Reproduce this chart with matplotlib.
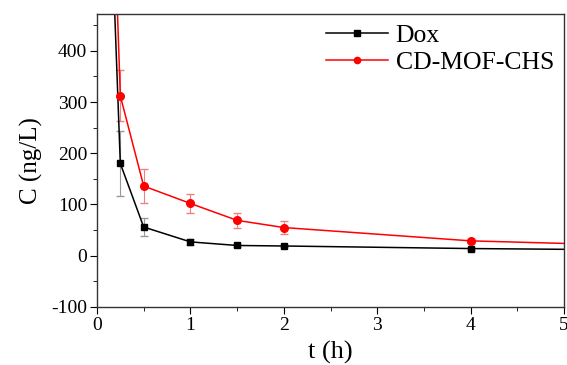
import matplotlib.pyplot as plt
from matplotlib.lines import Line2D
from matplotlib.ticker import MultipleLocator

plt.rcParams['font.family'] = ['Liberation Serif', 'DejaVu Serif']
plt.rcParams['axes.unicode_minus'] = False

# sampling times (h)
t = [0.083, 0.25, 0.5, 1, 1.5, 2, 4, 6]

# Dox plasma concentration (ng/L) and SD
dox = [1000, 180, 56, 27, 20, 19, 14, 11]
dox_err = [0, 63, 17, 6, 2, 2, 2, 1]

# CD-MOF-CHS plasma concentration (ng/L) and SD
chs = [1200, 312, 136, 102, 69, 55, 29, 19]
chs_err = [0, 50, 33, 18, 15, 13, 4, 2]

fig = plt.figure(figsize=(5.67, 3.65), dpi=100)
ax = fig.add_axes([0.171, 0.159, 0.824, 0.803])

ax.errorbar(t, dox, yerr=dox_err, color='black', marker='s', markersize=5,
            lw=1.1, ecolor='#999999', elinewidth=0.8, capsize=3)
ax.errorbar(t, chs, yerr=chs_err, color='red', marker='o', markersize=5.5,
            lw=1.1, ecolor='#f08080', elinewidth=0.8, capsize=3)

ax.set_xlim(0, 5)
ax.set_ylim(-100, 472)
ax.xaxis.set_major_locator(MultipleLocator(1))
ax.xaxis.set_minor_locator(MultipleLocator(0.5))
ax.yaxis.set_major_locator(MultipleLocator(100))
ax.yaxis.set_minor_locator(MultipleLocator(50))
ax.tick_params(which='both', direction='out', top=False, right=False, labelsize=14)
ax.tick_params(which='major', length=5, pad=2)
ax.tick_params(which='minor', length=3)
for s in ax.spines.values():
    s.set_linewidth(1.0)
    s.set_color('#333333')

ax.set_xlabel('t (h)', fontsize=19, labelpad=5)
ax.set_ylabel('C (ng/L)', fontsize=18, labelpad=6)

handles = [Line2D([], [], color='black', marker='s', markersize=4, lw=1.1),
           Line2D([], [], color='red', marker='o', markersize=4.5, lw=1.1)]
ax.legend(handles, ['Dox', 'CD-MOF-CHS'], loc='upper right', frameon=False,
          fontsize=18.5, handlelength=2.4, handletextpad=0.3,
          borderaxespad=0.0, labelspacing=0.15)

fig.savefig('out.png', dpi=100)
